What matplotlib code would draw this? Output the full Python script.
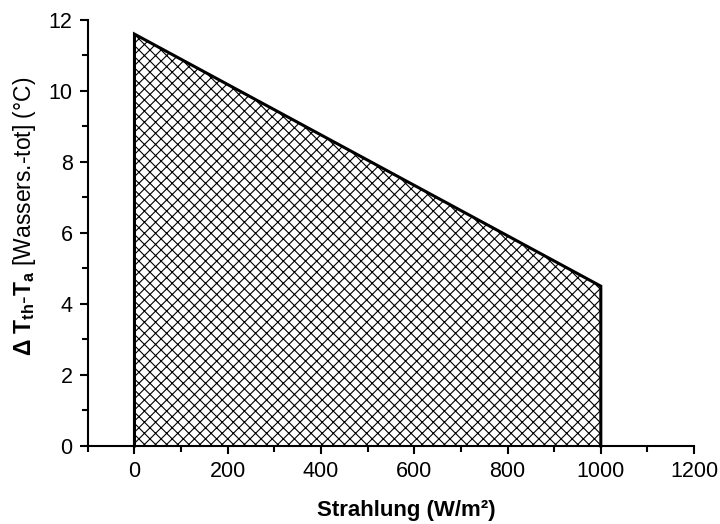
import matplotlib
matplotlib.use("Agg")
import matplotlib.pyplot as plt
from matplotlib.ticker import MultipleLocator

plt.rcParams['font.family'] = ['Liberation Sans', 'DejaVu Sans']
plt.rcParams['mathtext.fontset'] = 'custom'
plt.rcParams['mathtext.rm'] = 'Liberation Sans'
plt.rcParams['mathtext.bf'] = 'Liberation Sans:bold'
plt.rcParams['mathtext.it'] = 'Liberation Sans:italic'
plt.rcParams['hatch.linewidth'] = 0.8

# data
strahlung = [0, 1000]
delta_t = [11.6, 4.5]

fig = plt.figure(figsize=(7.2, 5.24), dpi=100)
ax = fig.add_axes([0.122, 0.149, 0.842, 0.813])

ax.fill_between(strahlung, 0, delta_t, facecolor='white', edgecolor='black',
                hatch='xxx', linewidth=0)
# outline of the area
ax.plot([strahlung[0], strahlung[0], strahlung[1], strahlung[1]],
        [0, delta_t[0], delta_t[1], 0], color='black', lw=2.2,
        solid_joinstyle='miter', clip_on=False)

ax.set_xlim(-100, 1200)
ax.set_ylim(0, 12)
ax.xaxis.set_major_locator(MultipleLocator(200))
ax.xaxis.set_minor_locator(MultipleLocator(100))
ax.yaxis.set_major_locator(MultipleLocator(2))
ax.yaxis.set_minor_locator(MultipleLocator(1))

for s in ['top', 'right']:
    ax.spines[s].set_visible(False)
for s in ['left', 'bottom']:
    ax.spines[s].set_linewidth(1.5)
ax.tick_params(which='major', direction='out', length=6, width=1.5,
               labelsize=15.5, pad=5)
ax.tick_params(which='minor', direction='out', length=4, width=1.5)

ax.set_xlabel('Strahlung (W/m²)', fontsize=16, fontweight='bold')
ax.set_ylabel(r'$\mathbf{\Delta\ T_{th}\text{-}T_{a}}$ [Wassers.-tot] (°C)',
              fontsize=16.5)
# labels sit a bit off-centre in the original
ax.xaxis.set_label_coords(0.526, -0.128)
ax.yaxis.set_label_coords(-0.083, 0.54)

fig.savefig('out.png', dpi=100)
